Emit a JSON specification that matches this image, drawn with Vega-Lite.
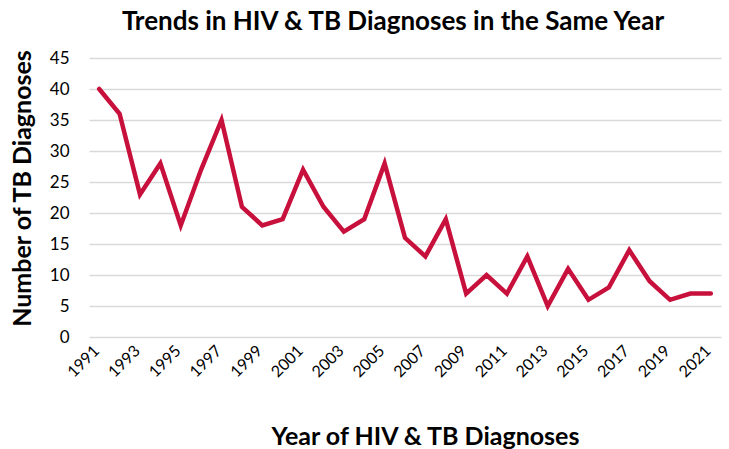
{
  "$schema": "https://vega.github.io/schema/vega-lite/v6.json",
  "width": 632,
  "height": 279,
  "autosize": "none",
  "padding": {"left": 89, "top": 58, "right": 8, "bottom": 112},
  "background": "white",
  "title": {
    "text": "Trends in HIV & TB Diagnoses in the Same Year",
    "font": "Lato",
    "fontSize": 26,
    "fontWeight": "bold",
    "color": "#000000",
    "anchor": "middle",
    "dx": -12,
    "offset": 14
  },
  "config": {
    "view": {"stroke": null},
    "font": "Lato"
  },
  "data": {
    "values": [
      {"year": 1991, "count": 40},
      {"year": 1992, "count": 36},
      {"year": 1993, "count": 23},
      {"year": 1994, "count": 28},
      {"year": 1995, "count": 18},
      {"year": 1996, "count": 27},
      {"year": 1997, "count": 35},
      {"year": 1998, "count": 21},
      {"year": 1999, "count": 18},
      {"year": 2000, "count": 19},
      {"year": 2001, "count": 27},
      {"year": 2002, "count": 21},
      {"year": 2003, "count": 17},
      {"year": 2004, "count": 19},
      {"year": 2005, "count": 28},
      {"year": 2006, "count": 16},
      {"year": 2007, "count": 13},
      {"year": 2008, "count": 19},
      {"year": 2009, "count": 7},
      {"year": 2010, "count": 10},
      {"year": 2011, "count": 7},
      {"year": 2012, "count": 13},
      {"year": 2013, "count": 5},
      {"year": 2014, "count": 11},
      {"year": 2015, "count": 6},
      {"year": 2016, "count": 8},
      {"year": 2017, "count": 14},
      {"year": 2018, "count": 9},
      {"year": 2019, "count": 6},
      {"year": 2020, "count": 7},
      {"year": 2021, "count": 7}
    ]
  },
  "mark": {"type": "line", "color": "#C8103C", "strokeWidth": 4.5, "strokeJoin": "miter", "strokeCap": "round"},
  "encoding": {
    "x": {
      "field": "year",
      "type": "ordinal",
      "scale": {"type": "point", "padding": 0.5},
      "axis": {
        "title": "Year of HIV & TB Diagnoses",
        "titleFont": "Lato",
        "titleFontSize": 25,
        "titleFontWeight": "bold",
        "titleColor": "#000000",
        "titleX": 336,
        "titleY": 107,
        "titleBaseline": "alphabetic",
        "values": [1991, 1993, 1995, 1997, 1999, 2001, 2003, 2005, 2007, 2009, 2011, 2013, 2015, 2017, 2019, 2021],
        "labelAngle": -45,
        "labelAlign": "right",
        "labelBaseline": "middle",
        "labelFontSize": 16,
        "labelColor": "#000000",
        "labelPadding": 11,
        "labelOffset": -3,
        "domain": false,
        "ticks": false,
        "grid": false
      }
    },
    "y": {
      "field": "count",
      "type": "quantitative",
      "scale": {"domain": [0, 45], "nice": false},
      "axis": {
        "title": "Number of TB Diagnoses",
        "titleFont": "Lato",
        "titleFontSize": 25,
        "titleFontWeight": "bold",
        "titleColor": "#000000",
        "titlePadding": 14,
        "titleY": 130,
        "values": [0, 5, 10, 15, 20, 25, 30, 35, 40, 45],
        "labelFontSize": 17,
        "labelColor": "#000000",
        "labelPadding": 20,
        "domain": false,
        "ticks": false,
        "grid": true,
        "gridColor": "#D9D9D9",
        "gridWidth": 1.5
      }
    }
  }
}
